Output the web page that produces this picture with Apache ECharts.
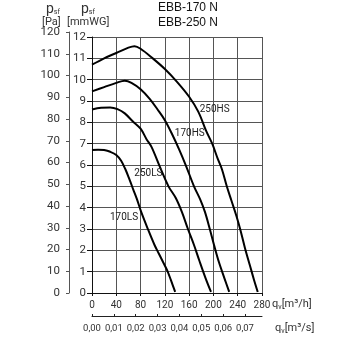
<!DOCTYPE html>
<html><head><meta charset="utf-8">
<script src="https://cdn.jsdelivr.net/npm/echarts@6/dist/echarts.min.js"></script>
<style>html,body{margin:0;padding:0;background:#fff}#c{width:350px;height:350px}</style>
</head><body><div id="c"></div>
<script>
// Flow q [m3/h] and static pressure p [mmWG]
const q250HS = [0,20,40,60,70,80,100,120,140,160,175,188,198,207,214,222,230,238,244,252,260,267,273];
const p250HS = [10.7,11.0,11.25,11.5,11.57,11.45,11.0,10.5,9.9,9.2,8.5,7.6,7.0,6.3,5.8,5.0,4.3,3.6,3.0,2.1,1.3,0.6,0.05];
const q170HS = [0,20,40,54,65,80,95,108,120,131,144,155,168,178,186,194,201,209,218,226];
const p170HS = [9.45,9.65,9.85,9.95,9.85,9.55,9.1,8.6,8.1,7.5,6.7,5.95,5.0,4.4,3.8,3.0,2.25,1.45,0.7,0.05];
const q250LS = [0,15,30,42,54,67,80,90,98,112,126,138,148,158,168,177,187,196];
const p250LS = [8.6,8.68,8.7,8.62,8.42,8.05,7.7,7.2,6.85,5.9,5.0,4.45,3.8,3.0,2.25,1.5,0.7,0.05];
const q170LS = [0,10,20,30,40,48,55,62,68,74,81,92,103,110,117,124,130,137];
const p170LS = [6.7,6.72,6.7,6.62,6.47,6.2,5.8,5.3,4.85,4.4,3.8,3.0,2.25,1.85,1.45,1.05,0.6,0.05];
const curveNames = ['250HS','170HS','250LS','170LS'];
const m3sTicks = [0,0.01,0.02,0.03,0.04,0.05,0.06,0.07];
const titleLines = ['EBB-170 N','EBB-250 N'];

const FAM = "Roboto, 'Liberation Sans', sans-serif";
const TXT = '#333';

function pairs(xs, ys){ return xs.map((x,i)=>[x, ys[i]]); }
const curves = [[q250HS,p250HS,[202,8.58]],[q170HS,p170HS,[161,7.48]],[q250LS,p250LS,[93,5.58]],[q170LS,p170LS,[52.7,3.54]]];

const chart = echarts.init(document.getElementById('c'), null, {renderer:'canvas'});
chart.setOption({
  animation:false,
  backgroundColor:'#fff',
  grid:[
    {left:92, top:37, width:170, height:256},
    {left:69, top:32, width:10, height:261},
    {left:92, top:296, width:170, height:20}
  ],
  xAxis:[
    {gridIndex:0, type:'value', min:0, max:280, interval:40,
     axisLine:{show:true, lineStyle:{color:'#111', width:1}},
     axisTick:{show:true, length:3, lineStyle:{color:'#111'}},
     axisLabel:{margin:7, fontSize:10, fontFamily:FAM, color:TXT},
     splitLine:{show:true, lineStyle:{color:'#555', width:1}}},
    {gridIndex:1, type:'value', min:0, max:1, show:false},
    {gridIndex:2, type:'value', min:0, max:280/3600, interval:0.01, position:'bottom',
     axisLine:{show:true, lineStyle:{color:'#222', width:1}},
     axisTick:{show:true, inside:true, length:2, customValues:m3sTicks, lineStyle:{color:'#222'}},
     axisLabel:{margin:8, fontSize:9.5, fontFamily:FAM, color:TXT, customValues:m3sTicks,
       formatter:v=>v.toFixed(2).replace('.',',')},
     splitLine:{show:false}}
  ],
  yAxis:[
    {gridIndex:0, type:'value', min:0, max:12, interval:1,
     axisLine:{show:true, lineStyle:{color:'#111', width:1}},
     axisTick:{show:true, length:5, lineStyle:{color:'#111'}},
     axisLabel:{margin:6, fontSize:11.5, fontFamily:FAM, color:TXT},
     splitLine:{show:true, lineStyle:{color:'#555', width:1}}},
    {gridIndex:1, type:'value', min:0, max:120, interval:10, position:'left',
     axisLine:{show:true, lineStyle:{color:'#555', width:1}},
     axisTick:{show:true, length:3, lineStyle:{color:'#555'}},
     axisLabel:{margin:9, fontSize:11.5, fontFamily:FAM, color:TXT},
     splitLine:{show:false}},
    {gridIndex:2, type:'value', show:false}
  ],
  series: curves.map((c,i)=>({
    type:'line', xAxisIndex:0, yAxisIndex:0, name:curveNames[i],
    data:pairs(c[0],c[1]), smooth:0.35, symbol:'none',
    lineStyle:{color:'#000', width:2},
    markPoint:{symbol:'circle', symbolSize:0, silent:true,
      label:{show:true, position:'inside', formatter:curveNames[i], fontSize:10, fontFamily:FAM, color:'#222'},
      data:[{coord:c[2]}]}
  })),
  graphic:[
    {type:'text', left:158, top:2, style:{text:titleLines[0], font:"12px 'Liberation Sans',Arial,sans-serif", fill:'#111'}},
    {type:'text', left:158, top:17, style:{text:titleLines[1], font:"12px 'Liberation Sans',Arial,sans-serif", fill:'#111'}},
    {type:'text', left:46, top:2, style:{text:'{p|p}{s|sf}', rich:{p:{fontSize:14, fontFamily:FAM, fill:'#333'}, s:{fontSize:7, fontFamily:FAM, fill:'#333', padding:[6,0,0,0]}}}},
    {type:'text', left:81, top:2, style:{text:'{p|p}{s|sf}', rich:{p:{fontSize:14, fontFamily:FAM, fill:'#333'}, s:{fontSize:7, fontFamily:FAM, fill:'#333', padding:[6,0,0,0]}}}},
    {type:'text', left:42, top:17, style:{text:'[Pa]', font:"11px "+FAM, fill:'#333'}},
    {type:'text', left:67, top:17, style:{text:'[mmWG]', font:"11px "+FAM, fill:'#333'}},
    {type:'text', left:272, top:299, style:{text:'{a|q}{b|v}{a|[m³/h]}', rich:{a:{fontSize:11, fontFamily:FAM, fill:'#333'}, b:{fontSize:7, fontFamily:FAM, fill:'#333', padding:[5,0,0,0]}}}},
    {type:'text', left:275, top:323, style:{text:'{a|q}{b|v}{a|[m³/s]}', rich:{a:{fontSize:11, fontFamily:FAM, fill:'#333'}, b:{fontSize:7, fontFamily:FAM, fill:'#333', padding:[5,0,0,0]}}}}
  ]
});
</script></body></html>
